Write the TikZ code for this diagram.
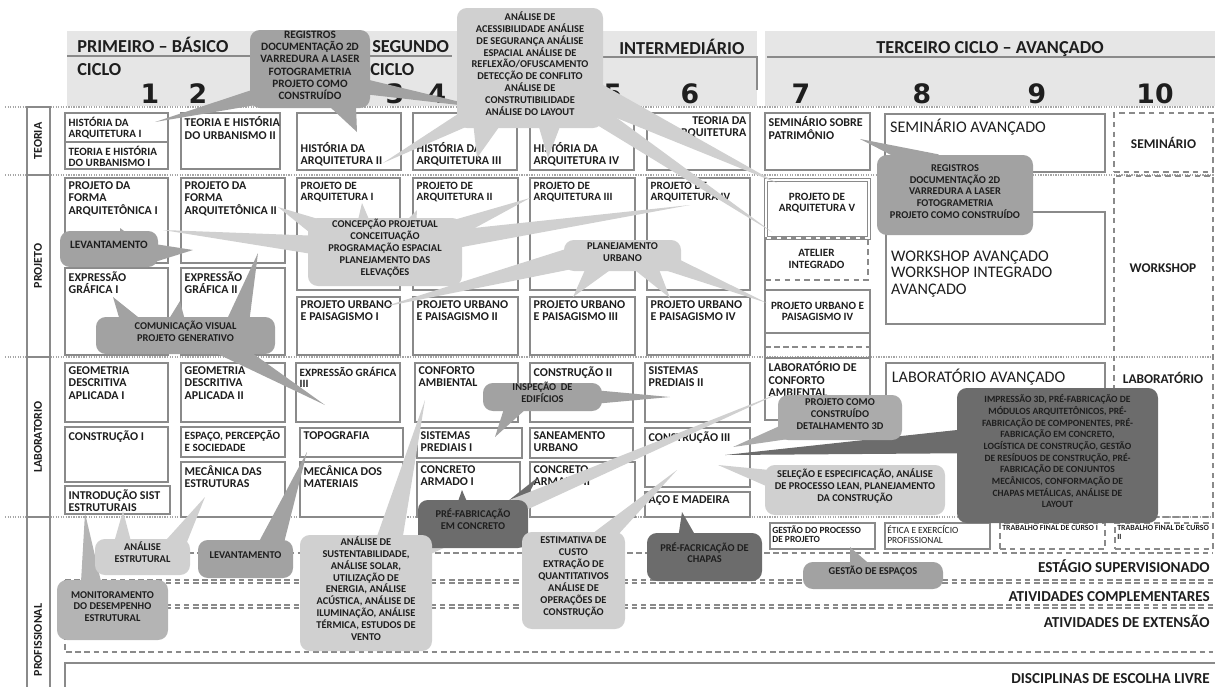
\documentclass[tikz,border=0pt]{standalone}
\usepackage{fontspec}
\setmainfont{Carlito}
\newfontfamily\numfont{DejaVu Sans}
\usetikzlibrary{calc,fit}
\pgfdeclarelayer{spikes}
\pgfdeclarelayer{bubbles}
\pgfsetlayers{main,spikes,bubbles}
\definecolor{ink}{HTML}{1E1E1E}
\definecolor{frame}{HTML}{8A8A8A}
\definecolor{band}{HTML}{E6E6E6}
\definecolor{cmid}{HTML}{A2A2A2}
\definecolor{clight}{HTML}{D0D0D0}
\definecolor{cdark}{HTML}{6C6C6C}
\definecolor{cpale}{HTML}{B4B4B4}
\definecolor{cproj}{HTML}{ABABAB}
% wedge from a bubble (plus offset) to a tip
\newcommand\spike[5]{%
  \path (#2) ++(#3) coordinate (sb);
  \fill[#1] ($(sb)!#5!90:(#4)$) -- (#4) -- ($(sb)!#5!-90:(#4)$) -- cycle;}

\begin{document}
\begin{tikzpicture}[x=0.025cm, y=-0.025cm]
	\tikzstyle{course} = [draw=frame, line width=1.1pt, inner sep=0pt]
	\tikzstyle{opencourse} = [course, dash pattern=on 4pt off 3pt]
	\tikzstyle{coursetxt} = [inner sep=3pt, align=left, text=ink, font=\fontsize{8.5}{8.7}\selectfont\bfseries]
	\tikzstyle{smalltxt} = [coursetxt, font=\fontsize{7.9}{8.3}\selectfont\bfseries]
	\tikzstyle{tinytxt} = [coursetxt, inner sep=2pt, font=\fontsize{5.6}{6.2}\selectfont\bfseries]
	\tikzstyle{bigtxt} = [coursetxt, inner sep=4pt, font=\fontsize{11.5}{11.8}\selectfont]
	\tikzstyle{sidetxt} = [text=ink, font=\fontsize{9.5}{10}\selectfont\bfseries]
	\tikzstyle{righttxt} = [text=ink, inner sep=0pt, font=\fontsize{10.8}{12}\selectfont\bfseries]
	\tikzstyle{cycletxt} = [text=ink, inner sep=0pt, font=\fontsize{13}{14}\selectfont\bfseries]
	\tikzstyle{semnum} = [text=ink, font=\numfont\bfseries\fontsize{19}{20}\selectfont]
	\tikzstyle{rowlabel} = [rotate=90, text=ink, font=\fontsize{8.5}{9}\selectfont\bfseries]
	\tikzstyle{rowsep} = [gray!70, line width=0.9pt, dash pattern=on 0.9pt off 0.9pt]
	\tikzstyle{dashrule} = [frame, line width=1pt, dash pattern=on 4pt off 2.5pt]
	\tikzstyle{bubble} = [rounded corners=7pt, inner sep=0pt, align=center, text=ink, font=\fontsize{7.4}{8.5}\selectfont\bfseries]

	\useasboundingbox (0,0) rectangle (1215,686);

	%cycles
	\fill[band] (67,31) rectangle (757,106);
	\fill[band] (765,31) rectangle (1215,106);
	\draw[frame, line width=0.9pt] (67,56) -- (452,56);
	\draw[frame, line width=0.9pt] (600,57) -- (757,57) -- (757,90);
	\draw[frame, line width=0.9pt] (767,57) -- (1215,57);
	\node[cycletxt, anchor=base west] (cyc1) at (77,52) {PRIMEIRO – BÁSICO};
	\node[cycletxt, anchor=base west] (cyc1b) at (77,75) {CICLO};
	\node[cycletxt, anchor=base west] (cyc2) at (372,52) {SEGUNDO};
	\node[cycletxt, anchor=base west] (cyc2b) at (370,75) {CICLO};
	\node[cycletxt, anchor=base west] (cyc2c) at (619,54) {INTERMEDIÁRIO};
	\node[cycletxt, anchor=base] (cyc3) at (990,53) {TERCEIRO CICLO – AVANÇADO};

	\foreach \n/\x in {1/150, 2/198, 3/395, 4/437, 5/613, 6/690, 7/801, 8/922, 9/1037, 10/1155}
		\node[semnum] (sem\n) at (\x,94) {\n};

	\foreach \y in {107,175,357,517}
		\draw[rowsep] (5,\y) -- (1215,\y);

	\foreach \name/\ya/\yb/\yt/\txt in {teo/107/175/141/TEORIA, pro/175/357/266/PROJETO, lab/357/517/437/LABORATORIO, prof/517/700/640/PROFISSIONAL}
	{
		\node[course, fit={(27,\ya) (50,\yb)}] (\name) {};
		\node[rowlabel] (\name-t) at (38,\yt) {\txt};
	}

	%courses, text top left
	\foreach \name/\xa/\ya/\xb/\yb/\txt in {
		thu2/181/113/280/169/{TEORIA E HISTÓRIA\\DO URBANISMO II},
		pfa1/65/178/168/263/{PROJETO DA\\FORMA\\ARQUITETÔNICA I},
		pfa2/181/178/285/263/{PROJETO DA\\FORMA\\ARQUITETÔNICA II},
		eg1/65/268/168/355/{EXPRESSÃO\\GRÁFICA I},
		eg2/181/268/285/355/{EXPRESSÃO\\GRÁFICA II},
		pup1/297/297/400/355/{PROJETO URBANO\\E PAISAGISMO I},
		pup2/413/297/518/355/{PROJETO URBANO\\E PAISAGISMO II},
		pup3/530/297/635/355/{PROJETO URBANO\\E PAISAGISMO III},
		pup4/647/297/750/355/{PROJETO URBANO\\E PAISAGISMO IV},
		gda1/65/363/168/422/{GEOMETRIA\\DESCRITIVA\\APLICADA I},
		gda2/181/363/285/422/{GEOMETRIA\\DESCRITIVA\\APLICADA II},
		con1/65/427/168/482/{CONSTRUÇÃO I},
		isis/65/486/170/514/{INTRODUÇÃO SIST\\ESTRUTURAIS},
		mde/181/462/285/517/{MECÂNICA DAS\\ESTRUTURAS},
		top/300/428/403/457/{TOPOGRAFIA},
		mdm/300/462/403/517/{MECÂNICA DOS\\MATERIAIS},
		cam/415/363/518/422/{CONFORTO\\AMBIENTAL},
		sp1/417/428/522/458/{SISTEMAS\\PREDIAIS I},
		ca1/417/462/520/517/{CONCRETO\\ARMADO I},
		con2/530/363/633/422/{CONSTRUÇÃO II},
		san/530/428/633/458/{SANEAMENTO\\URBANO},
		ca2/530/462/635/517/{CONCRETO\\ARMADO II},
		sp2/645/363/750/422/{SISTEMAS\\PREDIAIS II},
		con3/645/428/750/487/{CONSTRUÇÃO III},
		aco/645/492/750/517/{AÇO E MADEIRA},
		smp/765/113/870/170/{SEMINÁRIO SOBRE\\PATRIMÔNIO},
		lca/765/358/870/420/{LABORATÓRIO DE\\CONFORTO\\AMBIENTAL}}
	{
		\node[course, fit={(\xa,\ya) (\xb,\yb)}] (\name) {};
		\node[coursetxt, anchor=north west] (\name-t) at (\name.north west) {\txt};
	}

	\foreach \name/\xa/\ya/\xb/\yb/\txt in {
		ha1/65/113/168/142/{HISTÓRIA DA\\ARQUITETURA I},
		thu1/65/142/168/169/{TEORIA E HISTÓRIA\\DO URBANISMO I},
		pa1/297/178/400/290/{PROJETO DE\\ARQUITETURA I},
		pa2/413/178/518/290/{PROJETO DE\\ARQUITETURA II},
		pa3/530/178/635/290/{PROJETO DE\\ARQUITETURA III},
		pa4/647/178/750/290/{PROJETO DE\\ARQUITETURA IV},
		eg3/296/363/400/422/{EXPRESSÃO GRÁFICA\\III},
		eps/181/427/285/457/{ESPAÇO, PERCEPÇÃO\\E SOCIEDADE}}
	{
		\node[course, fit={(\xa,\ya) (\xb,\yb)}] (\name) {};
		\node[smalltxt, anchor=north west] (\name-t) at (\name.north west) {\txt};
	}

	\foreach \name/\xa/\txt in {ha2/297/II, ha3/413/III, ha4/530/IV}
	{
		\node[course, fit={(\xa,113) (\xa+104,170)}] (\name) {};
		\node[coursetxt, anchor=south west] (\name-t) at (\name.south west) {HISTÓRIA DA\\ARQUITETURA \txt};
	}
	\node[course, fit={(647,113) (750,170)}] (tar) {};
	\node[coursetxt, anchor=north east, align=right] (tar-t) at (tar.north east) {TEORIA DA\\ARQUITETURA};

	%third cycle
	\draw[frame, line width=1.1pt] (765,178) -- (765,357);
	\draw[frame, line width=1.1pt] (870,290) -- (870,357);
	\draw[dashrule] (765,347) -- (870,347);
	\node[course, double=white, double distance=1pt, fit={(766,180) (869,238)}] (pa5) {};
	\node[smalltxt, align=center] (pa5-t) at (817,203) {PROJETO DE\\ARQUITETURA V};
	\node[opencourse, fit={(765,238) (868,280)}] (ati) {};
	\node[smalltxt, align=center] (ati-t) at (ati) {ATELIER\\INTEGRADO};
	\node[course, fit={(765,290) (870,333)}] (pup5) {};
	\node[smalltxt, align=center] (pup5-t) at (pup5) {PROJETO URBANO E\\PAISAGISMO IV};

	\node[course, fit={(885,114) (1105,172)}] (sav) {};
	\node[bigtxt, anchor=north west] (sav-t) at (sav.north west) {SEMINÁRIO AVANÇADO};
	\node[course, fit={(886,212) (1105,324)}] (wav) {};
	\node[bigtxt, anchor=west] (wav-t) at ($(wav.west)+(0,6)$) {WORKSHOP AVANÇADO\\WORKSHOP INTEGRADO\\AVANÇADO};
	\draw[frame, line width=1.1pt] (886,395) |- (1105,363) -- (1105,400);
	\node[bigtxt, anchor=north west] (lav) at (886,363) {LABORATÓRIO AVANÇADO};

	\node[opencourse, fit={(1114,113) (1213,172)}] (sem) {};
	\node[sidetxt] (sem-t) at (sem) {SEMINÁRIO};
	\node[opencourse, fit={(1114,176) (1213,517)}] (wsl) {};
	\node[sidetxt] (ws-t) at (1163,268) {WORKSHOP};
	\node[sidetxt] (lb-t) at (1163,378) {LABORATÓRIO};

	\node[course, fit={(770,523) (875,549)}] (gpp) {};
	\node[tinytxt, anchor=north west, font=\fontsize{6.7}{7}\selectfont\bfseries] (gpp-t) at (gpp.north west) {GESTÃO DO PROCESSO\\DE PROJETO};
	\node[course, fit={(885,523) (990,549)}] (etp) {};
	\node[tinytxt, anchor=north west, font=\fontsize{6.7}{7}\selectfont] (etp-t) at (etp.north west) {ÉTICA E EXERCÍCIO\\PROFISSIONAL};
	\node[opencourse, fit={(1000,523) (1105,549)}] (tfc1) {};
	\node[tinytxt, anchor=north west] (tfc1-t) at (tfc1.north west) {TRABALHO FINAL DE CURSO I};
	\node[opencourse, fit={(1115,523) (1213,549)}] (tfc2) {};
	\node[tinytxt, anchor=north west] (tfc2-t) at (tfc2.north west) {TRABALHO FINAL DE CURSO\\II};

	%professional
	\draw[dashrule] (170,553) -- (1213,553);
	\foreach \y in {580,583,605,608}
		\draw[dashrule] (65,\y) -- (1213,\y);
	\draw[dashrule] (65,580) -- (65,652) -- (1213,652);
	\draw[frame, line width=1.6pt] (65,700) -- (65,663) -- (1215,663);
	\node[righttxt, anchor=base east] (est) at (1210,572) {ESTÁGIO SUPERVISIONADO};
	\node[righttxt, anchor=base east] (atc) at (1210,601) {ATIVIDADES COMPLEMENTARES};
	\node[righttxt, anchor=base east] (ate) at (1210,627) {ATIVIDADES DE EXTENSÃO};
	\node[righttxt, anchor=base east] (del) at (1210,683) {DISCIPLINAS DE ESCOLHA LIVRE};

	%bubbles
	\begin{pgfonlayer}{bubbles}
	\node[bubble, fill=cmid, font=\fontsize{8}{8.8}\selectfont\bfseries, fit={(250,30) (370,108)}] (reg1) {REGISTROS\\DOCUMENTAÇÃO 2D\\VARREDURA A LASER\\FOTOGRAMETRIA\\PROJETO COMO\\CONSTRUÍDO};
	\node[bubble, fill=clight, fit={(457,8) (603,128)}] (ana1) {ANÁLISE DE\\ACESSIBILIDADE ANÁLISE\\DE SEGURANÇA ANÁLISE\\ESPACIAL ANÁLISE DE\\REFLEXÃO/OFUSCAMENTO\\DETECÇÃO DE CONFLITO\\ANÁLISE DE\\CONSTRUTIBILIDADE\\ANÁLISE DO LAYOUT};
	\node[bubble, fill=cmid, font=\fontsize{8}{8.8}\selectfont\bfseries, fit={(60,231) (158,267)}] (lev1) {LEVANTAMENTO};
	\node[bubble, fill=clight, fit={(308,218) (462,286)}] (conc) {CONCEPÇÃO PROJETUAL\\CONCEITUAÇÃO\\PROGRAMAÇÃO ESPACIAL\\PLANEJAMENTO DAS\\ELEVAÇÕES};
	\node[bubble, fill=clight, fit={(564,240) (681,271)}] (plan) {PLANEJAMENTO\\URBANO};
	\node[bubble, fill=cmid, fit={(96,317) (275,354)}] (com) {COMUNICAÇÃO VISUAL\\PROJETO GENERATIVO};
	\node[bubble, fill=cmid, fit={(483,383) (602,411)}] (insp) {INSPEÇÃO \ DE\\EDIFÍCIOS};
	\node[bubble, fill=cproj, fit={(778,395) (902,440)}] (proj) {PROJETO COMO\\CONSTRUÍDO\\DETALHAMENTO 3D};
	\node[bubble, fill=cdark, font=\fontsize{6.8}{8.3}\selectfont\bfseries, fit={(957,388) (1158,523)}] (impr) {IMPRESSÃO 3D, PRÉ-FABRICAÇÃO DE\\MÓDULOS ARQUITETÔNICOS, PRÉ-\\FABRICAÇÃO DE COMPONENTES, PRÉ-\\FABRICAÇÃO EM CONCRETO,\\LOGÍSTICA DE CONSTRUÇÃO, GESTÃO\\DE RESÍDUOS DE CONSTRUÇÃO, PRÉ-\\FABRICAÇÃO DE CONJUNTOS\\MECÂNICOS, CONFORMAÇÃO DE\\CHAPAS METÁLICAS, ANÁLISE DE\\LAYOUT};
	\node[bubble, fill=clight, fit={(765,465) (945,515)}] (sel) {SELEÇÃO E ESPECIFICAÇÃO, ANÁLISE\\DE PROCESSO LEAN, PLANEJAMENTO\\DA CONSTRUÇÃO};
	\node[bubble, fill=cdark, fit={(418,500) (528,548)}] (pref) {PRÉ-FABRICAÇÃO\\EM CONCRETO};
	\node[bubble, fill=cdark, fit={(647,533) (762,581)}] (chap) {PRÉ-FACRICAÇÃO DE\\CHAPAS};
	\node[bubble, fill=clight, fit={(522,532) (625,629)}] (est) {ESTIMATIVA DE\\CUSTO\\EXTRAÇÃO DE\\QUANTITATIVOS\\ANÁLISE DE\\OPERAÇÕES DE\\CONSTRUÇÃO};
	\node[bubble, fill=clight, fit={(300,535) (432,651)}] (sus) {ANÁLISE DE\\SUSTENTABILIDADE,\\ANÁLISE SOLAR,\\UTILIZAÇÃO DE\\ENERGIA, ANÁLISE\\ACÚSTICA, ANÁLISE DE\\ILUMINAÇÃO, ANÁLISE\\TÉRMICA, ESTUDOS DE\\VENTO};
	\node[bubble, fill=clight, fit={(95,539) (190,575)}] (aest) {ANÁLISE\\ESTRUTURAL};
	\node[bubble, fill=cmid, fit={(198,540) (293,578)}] (lev2) {LEVANTAMENTO};
	\node[bubble, fill=cpale, fit={(57,580) (168,640)}] (mon) {MONITORAMENTO\\DO DESEMPENHO\\ESTRUTURAL};
	\node[bubble, fill=cmid, fit={(877,155) (1033,235)}] (reg2) {REGISTROS\\DOCUMENTAÇÃO 2D\\VARREDURA A LASER\\FOTOGRAMETRIA\\PROJETO COMO CONSTRUÍDO};
	\node[bubble, fill=cmid, fit={(803,562) (943,589)}] (gest) {GESTÃO DE ESPAÇOS};
	\end{pgfonlayer}

	%tips
	\foreach \name/\x/\y in {t-ha1/155/122, t-ha2a/357/132, t-ha3a/485/108,
		t-ha2b/383/163, t-ha3/477/158, t-ha4/548/158, t-pa5/777/183, t-ati/772/232,
		t-pfa1a/120/228, t-pfa2a/193/250,
		t-pfa1b/163/230, t-pfa2b/278/207, t-pa1/362/203, t-pa2/417/210, t-pa3/530/198, t-pa4/690/205,
		t-pup1/383/307, t-pup3/573/297, t-pup4/670/298, t-pup5/767/303,
		t-eg1/113/297, t-eg2/180/301, t-pfa2c/258/253, t-eg3/325/405,
		t-sp1/495/437, t-sp2/670/397,
		t-con3a/733/447, t-con3b/725/455, t-con3c/718/465, t-con3d/677/470,
		t-ca1/462/490, t-ca2/537/478, t-aco/682/512,
		t-cam/425/400, t-lca/782/392,
		t-isa/123/511, t-mde/205/497, t-top/307/452, t-isb/85/513,
		t-smp/860/139, t-gpp/850/547}
		\coordinate (\name) at (\x,\y);

	\begin{pgfonlayer}{spikes}
	\foreach \c/\from/\dx/\dy/\to/\w in {
		cmid/reg1/-30/22/t-ha1/7pt, cmid/reg1/30/26/t-ha2a/12pt, cmid/reg1/40/15/t-ha3a/6pt,
		clight/ana1/-45/40/t-ha2b/7pt, clight/ana1/-40/40/t-ha3/14pt, clight/ana1/20/40/t-ha4/12pt,
		clight/ana1/50/20/t-pa5/10pt, clight/ana1/50/35/t-ati/7pt,
		cmid/lev1/25/5/t-pfa1a/10pt, cmid/lev1/30/5/t-pfa2a/9pt,
		clight/conc/-50/-5/t-pfa1b/7.5pt, clight/conc/-50/-15/t-pfa2b/9pt, clight/conc/-20/-15/t-pa1/8pt,
		clight/conc/20/-15/t-pa2/8pt, clight/conc/50/-15/t-pa3/8pt, clight/conc/50/-10/t-pa4/7pt,
		clight/plan/-40/0/t-pup1/8pt, clight/plan/-20/5/t-pup3/9pt, clight/plan/20/5/t-pup4/9pt, clight/plan/40/5/t-pup5/6pt,
		cmid/com/-50/-5/t-eg1/9pt, cmid/com/-10/-5/t-eg2/9pt, cmid/com/50/-5/t-pfa2c/9pt, cmid/com/30/5/t-eg3/8pt,
		cmid/insp/-25/5/t-sp1/8pt, cmid/insp/35/0/t-sp2/6pt,
		cproj/proj/-40/10/t-con3a/7pt,
		cdark/impr/-80/-15/t-con3b/9pt,
		clight/sel/-60/-5/t-con3c/9pt,
		cdark/pref/-10/-5/t-ca1/8pt, cdark/pref/30/-5/t-ca2/8pt,
		cdark/chap/-15/-5/t-aco/10pt,
		clight/est/15/-30/t-con3d/8pt,
		clight/sus/20/-40/t-cam/10pt, clight/sus/40/-40/t-lca/8pt,
		clight/aest/-20/0/t-isa/9pt, clight/aest/25/0/t-mde/9pt,
		cmid/lev2/20/0/t-top/10pt,
		cpale/mon/-20/-10/t-isb/9pt,
		cmid/reg2/-20/-30/t-smp/8pt,
		cmid/gest/-10/0/t-gpp/10pt}
		\spike{\c}{\from}{\dx,\dy}{\to}{\w};
	\end{pgfonlayer}
\end{tikzpicture}
\end{document}
